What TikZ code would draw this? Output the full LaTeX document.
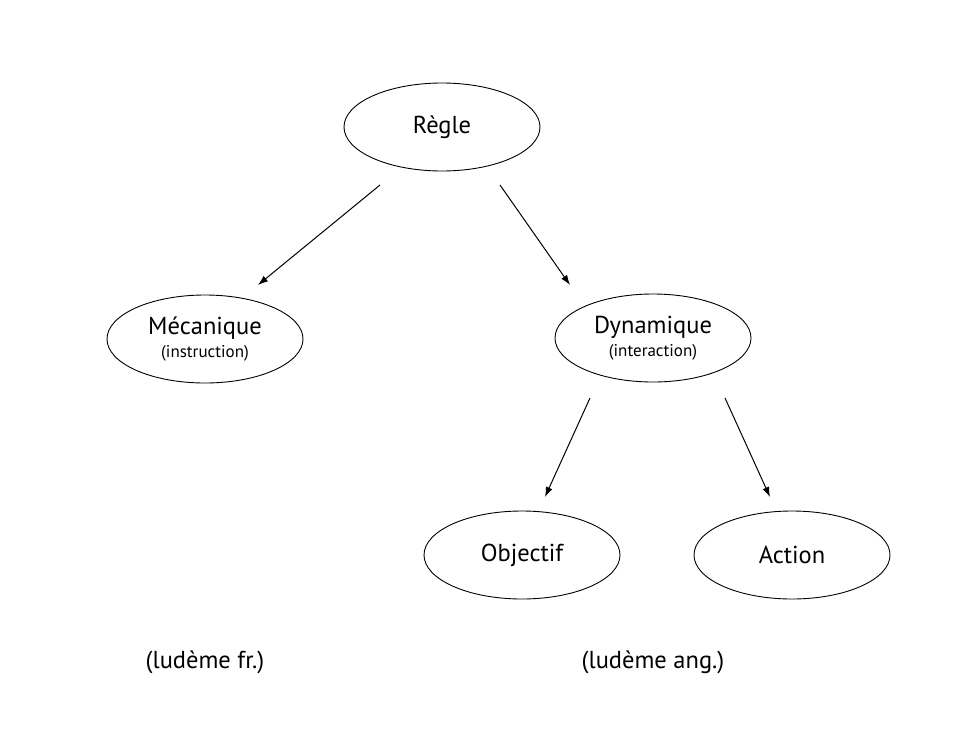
\documentclass[tikz,border=0pt]{standalone}
\usepackage{fontspec}
\setmainfont{PT Sans}
\usetikzlibrary{shapes.geometric,arrows.meta}
\begin{document}
\begin{tikzpicture}[x=1pt,y=-1pt,
  oval/.style={draw,ellipse,line width=0.9pt,minimum width=196pt,minimum height=88pt,inner sep=0pt,align=center,font=\fontsize{24.5}{26}\selectfont},
  arr/.style={line width=1pt,-{Latex[length=10pt,width=7pt]}},
  lbl/.style={font=\fontsize{24.5}{26}\selectfont}]
\useasboundingbox[fill=white] (0,0) rectangle (979,752);
\node[oval] (R) at (442,127) {Règle};
\node[oval] (M) at (205,339) {Mécanique\\[-3pt]{\fontsize{17}{19}\selectfont(instruction)}};
\node[oval] (D) at (653,338) {Dynamique\\[-3pt]{\fontsize{17}{19}\selectfont(interaction)}};
\node[oval] (O) at (522,555) {Objectif};
\node[oval] (A) at (792,555) {Action};
\node[lbl] (LF) at (205,662) {(ludème fr.)};
\node[lbl] (LA) at (653,662) {(ludème ang.)};
\coordinate (r1) at (380,185);
\coordinate (m1) at (258,285);
\coordinate (r2) at (500,185);
\coordinate (d1) at (570,285);
\coordinate (d2) at (590,398);
\coordinate (o1) at (545,497);
\coordinate (d3) at (725,398);
\coordinate (a1) at (770,497);
\draw[arr] (r1) -- (m1);
\draw[arr] (r2) -- (d1);
\draw[arr] (d2) -- (o1);
\draw[arr] (d3) -- (a1);
\end{tikzpicture}
\end{document}
